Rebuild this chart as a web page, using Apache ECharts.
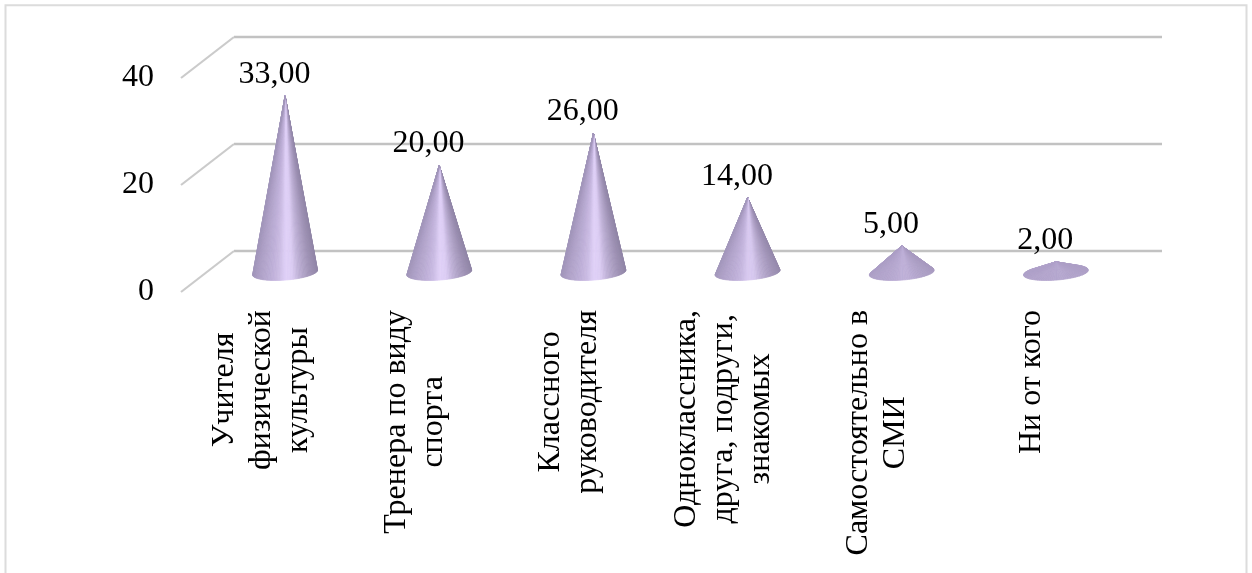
<!DOCTYPE html>
<html>
<head>
<meta charset="utf-8">
<style>html,body{margin:0;padding:0;background:#fff}#chart{width:1252px;height:573px}</style>
<script src="https://cdn.jsdelivr.net/npm/echarts@6/dist/echarts.min.js"></script>
</head>
<body>
<div id="chart"></div>
<script>
// Источники информации: конусная диаграмма
const categories = [
  'Учителя\nфизической\nкультуры',
  'Тренера по виду\nспорта',
  'Классного\nруководителя',
  'Одноклассника,\nдруга, подруги,\nзнакомых',
  'Самостоятельно в\nСМИ',
  'Ни от кого'
];
const values = [33, 20, 26, 14, 5, 2];
const gridTicks = [0, 20, 40];

const FONT = '"Liberation Serif", "Times New Roman", serif';
const FONT_SIZE = 32;
const GRID_COLOR = '#c2c2c2';
// Shift of the front plane relative to the back wall of the 3D box
const DEPTH_X = -53, DEPTH_Y = 41;
// Cone base: half axes and tilt of the ellipse
const BASE_A = 32.5, BASE_B = 7.6, BASE_TILT = 4.5 * Math.PI / 180;
// Shading across the cone, left to right
const SHADE = ['#a296ba', '#ad9fc6', '#b6a8cf', '#bfb0d9', '#cbbce4', '#e0d1f8', '#dccdf4', '#c0b2d8', '#ac9fc3', '#9c8fb2', '#9085a6'];

function renderCone(params, api) {
  const i = api.value(0), v = api.value(1);
  const apex = api.coord([i, v]);
  const c = api.coord([i, 0]);
  const ux = Math.cos(BASE_TILT), uy = -Math.sin(BASE_TILT);
  const vx = Math.sin(BASE_TILT), vy = Math.cos(BASE_TILT);
  const dx = apex[0] - c[0], dy = apex[1] - c[1];
  const px = (dx * ux + dy * uy) / BASE_A, py = (dx * vx + dy * vy) / BASE_B;
  const r = Math.hypot(px, py), phi = Math.atan2(py, px), al = Math.acos(1 / r);
  const t1 = phi + al, t2 = phi - al + 2 * Math.PI;
  const N = 64, children = [];
  const pt = t => [
    c[0] + BASE_A * Math.cos(t) * ux + BASE_B * Math.sin(t) * vx,
    c[1] + BASE_A * Math.cos(t) * uy + BASE_B * Math.sin(t) * vy
  ];
  // Flat cones catch less of the highlight
  const flat = Math.min(1, Math.max(0, (Math.abs(dy) - 8) / 80));
  for (let k = 0; k < N; k++) {
    const a = pt(t1 + (t2 - t1) * k / N), b = pt(t1 + (t2 - t1) * (k + 1) / N);
    const f = Math.min(1, Math.max(0, ((a[0] + b[0]) / 2 - c[0] + BASE_A) / (2 * BASE_A)));
    let col = echarts.color.lerp(f, SHADE);
    col = echarts.color.lerp(0.08 + 0.92 * flat, ['#b0a2ca', col]);
    children.push({
      type: 'polygon',
      shape: { points: [apex, a, b] },
      style: { fill: col, stroke: col, lineWidth: 0.7 }
    });
  }
  children.push({
    type: 'text',
    z2: 10,
    style: {
      text: v.toFixed(2).replace('.', ','),
      x: apex[0] - 10.7, y: apex[1] - 21.5,
      align: 'center', verticalAlign: 'middle',
      font: FONT_SIZE + 'px ' + FONT, fill: '#000'
    }
  });
  return { type: 'group', children };
}

function renderDepthLine(params, api) {
  const v = api.value(0);
  const back = api.coord([0, v]);
  const x = params.coordSys.x;
  return {
    type: 'line',
    shape: { x1: x, y1: back[1], x2: x + DEPTH_X, y2: back[1] + DEPTH_Y },
    style: { stroke: '#cbcbcb', lineWidth: 2.2 }
  };
}

const yBase = { type: 'value', min: 0, max: 40, interval: 20 };
const plain = { axisLine: { show: false }, axisTick: { show: false }, axisLabel: { show: false }, splitLine: { show: false } };

const chart = echarts.init(document.getElementById('chart'), null, { renderer: 'canvas' });
chart.setOption({
  animation: false,
  backgroundColor: '#fff',
  graphic: [{
    type: 'rect', silent: true, z: -1,
    shape: { x: 5.5, y: 5.2, width: 1241, height: 620 },
    style: { fill: 'none', stroke: '#dcdcdc', lineWidth: 2 }
  }],
  grid: [
    // back wall
    { left: 234, top: 37, width: 928, height: 214 },
    // front plane, carries the axis labels
    { left: 184.5, top: 78, width: 924, height: 214 },
    // middle plane, cones stand here
    { left: 208, top: 58.5, width: 925, height: 214 }
  ],
  xAxis: [
    { gridIndex: 0, type: 'category', data: categories, ...plain },
    {
      gridIndex: 1, type: 'category', data: categories,
      axisLine: { show: false }, axisTick: { show: false },
      axisLabel: {
        interval: 0, rotate: 90, margin: 18, align: 'right', verticalAlign: 'middle',
        lineHeight: 37, fontFamily: FONT, fontSize: FONT_SIZE, color: '#000',
        formatter: s => s.split('\n').map(l => '{c|' + l + '}').join('\n'),
        rich: { c: { align: 'center', fontFamily: FONT, fontSize: FONT_SIZE, color: '#000', lineHeight: 37 } }
      }
    },
    { gridIndex: 2, type: 'category', data: categories, ...plain }
  ],
  yAxis: [
    {
      gridIndex: 0, ...yBase, ...plain,
      splitLine: { show: true, lineStyle: { color: GRID_COLOR, width: 2.4 } }
    },
    {
      gridIndex: 1, ...yBase,
      axisLine: { show: false }, axisTick: { show: false }, splitLine: { show: false },
      axisLabel: { margin: 30.5, padding: [6, 0, 0, 0], fontFamily: FONT, fontSize: FONT_SIZE, color: '#000' }
    },
    { gridIndex: 2, ...yBase, ...plain }
  ],
  series: [
    {
      type: 'custom', xAxisIndex: 0, yAxisIndex: 0, z: 1, silent: true,
      data: gridTicks.map(t => [t]),
      encode: { y: 0 },
      renderItem: renderDepthLine
    },
    {
      type: 'custom', xAxisIndex: 2, yAxisIndex: 2, z: 3, silent: true,
      data: values.map((v, i) => [i, v]),
      encode: { x: 0, y: 1 },
      renderItem: renderCone
    }
  ]
});
</script>
</body>
</html>
